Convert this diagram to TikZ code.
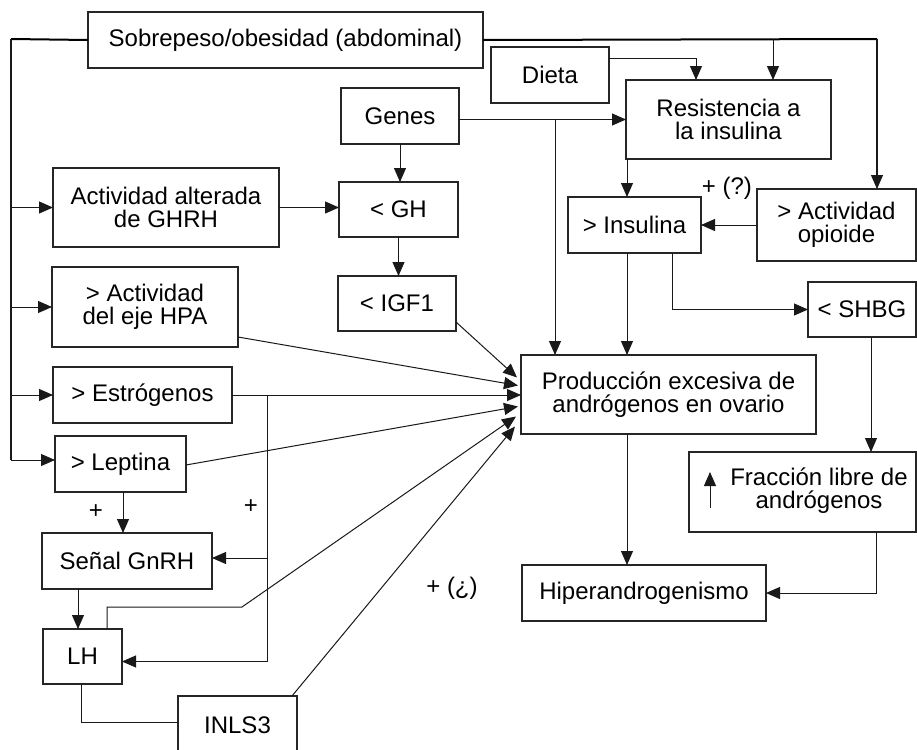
\documentclass[tikz,border=0pt]{standalone}
\usepackage{fontspec}
\setmainfont{Liberation Sans}
\usetikzlibrary{calc,arrows.meta}
\newcommand\mybox[6]{\node[box,minimum width={(#4-#2)*0.5pt},minimum height={(#5-#3)*0.5pt}] (#1) at ({(#2+#4)/2},{(#3+#5)/2}) {#6};}
\begin{document}
\begin{tikzpicture}[x=0.5pt,y=-0.5pt,
  box/.style={draw=black!85,line width=0.65pt,inner sep=0pt,outer sep=0pt,align=center,font=\fontsize{12}{11.5}\selectfont},
  ln/.style={line width=0.5pt,draw=black!90},
  arr/.style={ln,-{Triangle[length=7pt,width=6pt]}},
  lbl/.style={font=\fontsize{12}{14}\selectfont,inner sep=0pt}]
\useasboundingbox (0,0) rectangle (917,750);
\fill[white] (0,0) rectangle (917,750);

% boxes
\mybox{sob}{88}{12}{483}{68}{Sobrepeso/obesidad (abdominal)}
\mybox{dieta}{491}{47}{609}{103}{Dieta}
\mybox{genes}{341}{88}{459}{144}{Genes}
\mybox{res}{626}{80}{831}{159}{Resistencia a\\la insulina}
\mybox{ghrh}{53}{168}{279}{247}{Actividad alterada\\de GHRH}
\mybox{gh}{339}{182}{458}{237}{< GH}
\mybox{ins}{568}{197}{701}{253}{> Insulina}
\mybox{opi}{757}{189}{916}{261}{> Actividad\\opioide}
\mybox{hpa}{52}{267}{238}{347}{> Actividad\\del eje HPA}
\mybox{igf}{338}{276}{456}{331}{< IGF1}
\mybox{shbg}{808}{282}{916}{337}{< SHBG}
\mybox{est}{53}{367}{232}{423}{> Estrógenos}
\mybox{prod}{521}{355}{816}{434}{Producción excesiva de\\andrógenos en ovario}
\mybox{lep}{55}{436}{186}{492}{> Leptina}
\mybox{frac}{689}{452}{916}{532}{}
\node[box,draw=none] (fractxt) at (819,491) {Fracción libre de\\andrógenos};
\mybox{gnrh}{42}{533}{212}{589}{Señal GnRH}
\mybox{hiper}{522}{565}{766}{621}{Hiperandrogenismo}
\mybox{lh}{43}{629}{122}{684}{LH}
\mybox{inls}{178}{696}{297}{754}{INLS3}

% up arrow inside Fraccion box
\coordinate (fa1) at (710,508);
\coordinate (fa2) at (710,472);
\draw[arr] (fa1) -- (fa2);

% left bus from Sobrepeso
\coordinate (bus) at (11,39);
\coordinate (busb) at (11,460);
\draw[line width=1pt] (sob.west) -- (bus);
\draw[ln,line width=0.65pt] (bus) -- (busb);
\draw[arr] (busb) -- (busb -| lep.west);
\draw[arr] (bus |- ghrh.west) -- (ghrh.west);
\draw[arr] (bus |- hpa.west) -- (hpa.west);
\draw[arr] (bus |- est.west) -- (est.west);

% top right bus from Sobrepeso
\coordinate (tr) at (877,39);
\coordinate (ta) at (773,39);
\draw[line width=1pt] (sob.east) -- (tr);
\draw[ln,line width=0.65pt] (tr) -- ($(tr |- opi.north)+(0,-12)$);
\draw[arr] ($(tr |- opi.north)+(0,-13)$) -- (tr |- opi.north);
\draw[arr] (ta) -- (ta |- res.north);

% Dieta -> Resistencia
\draw[arr] ($(dieta.east)+(0,-17)$) -| ($(res.north west)+(70,0)$);

% Genes -> Resistencia, branch to Produccion
\coordinate (gb) at ($(res.west)+(-71,0)$);
\draw[arr] (genes.east |- res.west) -- (res.west);
\draw[arr] (gb) -- (gb |- prod.north);

% Genes -> GH -> IGF1, GHRH -> GH
\draw[arr] (genes.south) -- (genes.south |- gh.north);
\draw[arr] (ghrh.east) -- (ghrh.east -| gh.west);
\draw[arr] (gh.south) -- (gh.south |- igf.north);

% Resistencia -> Insulina, Opioide -> Insulina
\coordinate (ri) at ($(res.south west)+(1,0)$);
\draw[arr] (ri) -- (ri |- ins.north);
\draw[arr] (opi.west) -- (opi.west -| ins.east);

% Insulina -> Produccion, Insulina -> SHBG
\coordinate (ip) at ($(ins.south west)+(59,0)$);
\draw[arr] (ip) -- (ip |- prod.north);
\draw[arr] ($(ins.south west)+(104,0)$) |- (shbg.west);

% SHBG -> Fraccion -> Hiper
\coordinate (sf) at ($(shbg.south west)+(63,0)$);
\draw[arr] (sf) -- (sf |- frac.north);
\draw[arr] ($(frac.south west)+(187,0)$) |- (hiper.east);

% Produccion -> Hiper
\coordinate (ph) at ($(prod.south west)+(106,0)$);
\draw[arr] (ph) -- (ph |- hiper.north);

% converging arrows into Produccion
\draw[arr] ($(igf.south east)+(0,-9)$) -- ($(prod.west)+(-4,-17)$);
\draw[arr] ($(hpa.south east)+(0,-10)$) -- ($(prod.west)+(-3,-9)$);
\draw[arr] (est.east) -- (est.east -| prod.west);
\draw[arr] ($(lep.east)+(0,1)$) -- ($(prod.west)+(-3,12)$);
\coordinate (lhk) at (242,607);
\draw[arr] ($(lh.north west)+(64,0)$) |- (lhk) -- ($(prod.west)+(-5,22)$);
\draw[arr] ($(inls.north east)+(-5,0)$) -- ($(prod.west)+(-6,32)$);

% Estrogenos branch to GnRH and LH
\coordinate (eb) at ($(est.east)+(35,0)$);
\draw[arr] (eb) |- ($(lh.east)+(0,5)$);
\draw[arr] ($(eb |- gnrh.east)+(0,-3)$) -- ($(gnrh.east)+(0,-3)$);

% Leptina -> GnRH -> LH -> INLS3
\coordinate (lg) at ($(lep.south west)+(68,0)$);
\draw[arr] (lg) -- (lg |- gnrh.north);
\coordinate (gl) at ($(gnrh.south west)+(36,0)$);
\draw[arr] (gl) -- (gl |- lh.north);
\draw[ln] ($(lh.south west)+(38,0)$) |- ($(inls.west)+(0,-3)$);

% labels
\node[lbl] (p1) at (96,512) {+};
\node[lbl] (p2) at (251,507) {+};
\node[lbl] (p3) at (452,588) {+ (¿)};
\node[lbl] (p4) at (727,188) {+ (?)};
\end{tikzpicture}
\end{document}
